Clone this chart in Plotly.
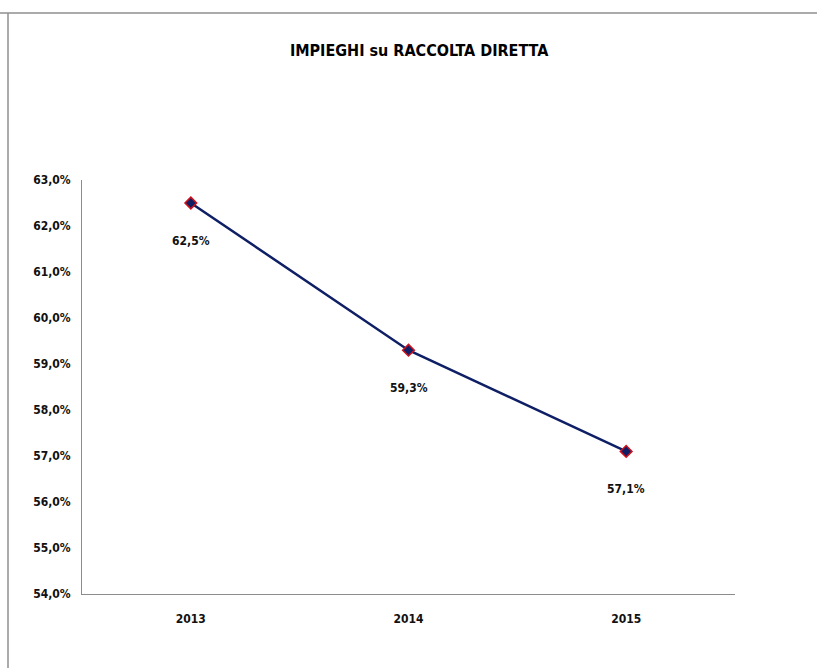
import plotly.graph_objects as go

# Data
years = ["2013", "2014", "2015"]
ratio = [0.625, 0.593, 0.571]
y_ticks = [0.54, 0.55, 0.56, 0.57, 0.58, 0.59, 0.60, 0.61, 0.62, 0.63]

FONT = "DejaVu Sans Condensed, Liberation Sans Narrow, sans-serif"
NAVY = "#0f1f66"

fig = go.Figure()
fig.add_trace(go.Scatter(
    x=years, y=ratio, mode="lines+markers",
    line=dict(color=NAVY, width=2.5),
    marker=dict(symbol="diamond", size=9, color=NAVY,
                line=dict(color="#d0101a", width=1.5)),
    hoverinfo="skip", showlegend=False,
))

# Value labels below each point (category index used as x position)
for i, yv in enumerate(ratio):
    fig.add_annotation(
        x=i, y=yv, xref="x", yref="y",
        text="<b>" + f"{yv*100:.1f}%".replace(".", ",") + "</b>",
        showarrow=False, yshift=-38,
        font=dict(family=FONT, size=12, color="#111111"),
    )

fig.update_layout(
    width=817, height=668,
    margin=dict(l=82, r=82, t=180, b=74),
    paper_bgcolor="white", plot_bgcolor="white",
    separators=",.",
    title=dict(
        text="<b>IMPIEGHI su RACCOLTA DIRETTA</b>",
        x=0.513, xanchor="center", y=0.925, yanchor="middle",
        font=dict(family=FONT, size=16, color="#000000"),
    ),
    xaxis=dict(
        type="category", range=[-0.5, 2.5],
        showline=True, linecolor="#8c8c8c", linewidth=1,
        showgrid=False, zeroline=False, ticks="",
        tickfont=dict(family=FONT, size=12, color="#111111", weight="bold"),
        ticklabelstandoff=14,
    ),
    yaxis=dict(
        range=[0.54, 0.63], tickvals=y_ticks, tickformat=".1%",
        showline=True, linecolor="#8c8c8c", linewidth=1,
        showgrid=False, zeroline=False, ticks="",
        tickfont=dict(family=FONT, size=12, color="#111111", weight="bold"),
        ticklabelstandoff=8,
    ),
    shapes=[
        dict(type="line", xref="paper", yref="paper",
             x0=-82/653, x1=1.2, y0=1 + (180-13)/414, y1=1 + (180-13)/414,
             line=dict(color="#8f8f8f", width=1.5)),
        dict(type="line", xref="paper", yref="paper",
             x0=-(82-8)/653, x1=-(82-8)/653, y0=1 + (180-13)/414, y1=-0.3,
             line=dict(color="#8f8f8f", width=1.5)),
    ],
)

fig.write_html("out.html")
